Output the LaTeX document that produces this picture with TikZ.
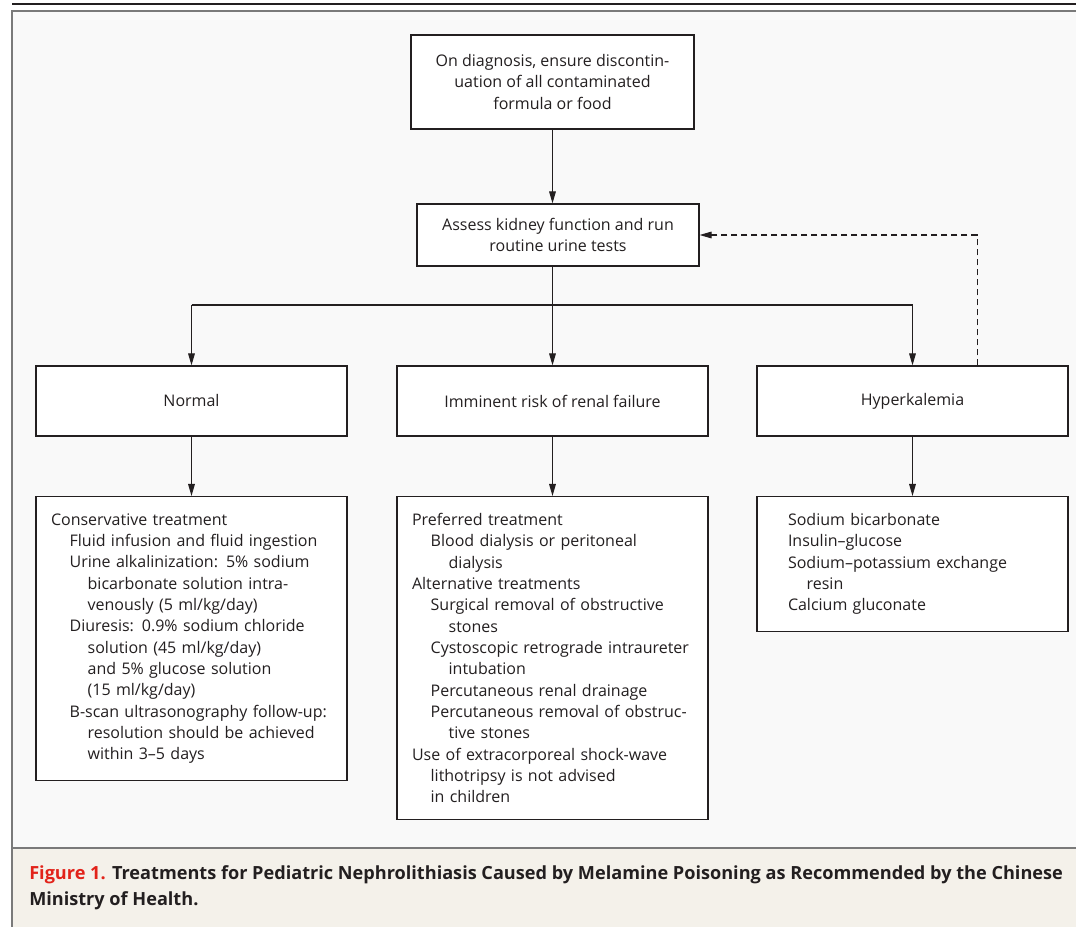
\documentclass[tikz,border=0pt]{standalone}
\usepackage{fontspec}
\setmainfont{Open Sans}
\usetikzlibrary{arrows.meta,positioning}

\definecolor{framegray}{RGB}{122,122,122}
\definecolor{panelbg}{RGB}{249,249,249}
\definecolor{capbg}{RGB}{244,241,234}
\definecolor{figred}{RGB}{226,35,26}
\definecolor{inkdark}{RGB}{35,31,32}

% hanging indents of the treatment lists
\newcommand{\lvone}{\hspace*{14pt}}
\newcommand{\lvtwo}{\hspace*{27.5pt}}

\tikzset{
  box/.style={draw=inkdark, line width=0.9pt, fill=white, text=inkdark, align=center,
    inner sep=0pt, font=\fontsize{12}{16}\selectfont},
  listbox/.style={draw=inkdark, line width=0.9pt, fill=white, text=inkdark, align=left,
    anchor=north, inner ysep=12.5pt, font=\fontsize{12}{16}\selectfont},
  arr/.style={draw=inkdark, line width=0.8pt, -{Triangle[length=9pt,width=5pt]}},
  wire/.style={draw=inkdark, line width=0.8pt},
}

\begin{document}
\begin{tikzpicture}[x=0.75pt,y=-0.75pt]
\useasboundingbox (0,0) rectangle (1076,927);

%Panel and caption band
\fill[panelbg] (12,11) rectangle (1076,848);
\fill[capbg] (12,848) rectangle (1076,927);
\draw[inkdark, line width=1.5pt] (12,4) -- (1076,4);
\draw[framegray, line width=1.5pt] (1076,11) -- (12,11) -- (12,927);
\draw[framegray, line width=1.5pt] (12,848) -- (1076,848);

%Top of the chart
\node[box, minimum width=212.25pt, minimum height=70.5pt] (diag) at (552.5,82)
  {On diagnosis, ensure discontin-\\uation of all contaminated\\formula or food};
\node[box, minimum width=211.5pt, minimum height=46.5pt] (assess) at (558,235)
  {Assess kidney function and run\\routine urine tests};

%Three outcomes
\node[box, minimum width=233.25pt, minimum height=52.5pt] (normal) at (191.5,401) {Normal};
\node[box, minimum width=233.25pt, minimum height=52.5pt] (risk) at (552.5,401) {Imminent risk of renal failure};
\node[box, minimum width=233.25pt, minimum height=52.5pt] (hyper) at (912.5,401) {Hyperkalemia};

%Treatment lists
\node[listbox, text width=210.75pt, inner xsep=11.25pt] (normtx) at (191.5,496) {%
Conservative treatment\\
\lvone Fluid infusion and fluid ingestion\\
\lvone Urine alkalinization: 5\% sodium\\
\lvtwo bicarbonate solution intra-\\
\lvtwo venously (5 ml/kg/day)\\
\lvone Diuresis: 0.9\% sodium chloride\\
\lvtwo solution (45 ml/kg/day)\\
\lvtwo and 5\% glucose solution\\
\lvtwo (15 ml/kg/day)\\
\lvone B-scan ultrasonography follow-up:\\
\lvtwo resolution should be achieved\\
\lvtwo within 3--5 days};
\node[listbox, text width=210.75pt, inner xsep=11.25pt] (risktx) at (552.5,496) {%
Preferred treatment\\
\lvone Blood dialysis or peritoneal\\
\lvtwo dialysis\\
Alternative treatments\\
\lvone Surgical removal of obstructive\\
\lvtwo stones\\
\lvone Cystoscopic retrograde intraureter\\
\lvtwo intubation\\
\lvone Percutaneous renal drainage\\
\lvone Percutaneous removal of obstruc-\\
\lvtwo tive stones\\
Use of extracorporeal shock-wave\\
\lvone lithotripsy is not advised\\
\lvone in children};
\node[listbox, text width=186.75pt, inner xsep=23.25pt] (hypertx) at (912.5,496) {%
Sodium bicarbonate\\
Insulin--glucose\\
Sodium--potassium exchange\\
\lvone resin\\
Calcium gluconate};

%Connectors
\coordinate (split) at (552.5,305);
\draw[arr] (diag.south) -- (diag.south |- assess.north);
\draw[wire] (diag.south |- assess.south) -- (split);
\draw[wire] (normal.north |- split) -- (hyper.north |- split);
\draw[arr] (normal.north |- split) -- (normal.north);
\draw[arr] (split) -- (risk.north);
\draw[arr] (hyper.north |- split) -- (hyper.north);
\draw[arr] (normal) -- (normtx);
\draw[arr] (risk) -- (risktx);
\draw[arr] (hyper) -- (hypertx);
\draw[arr, dash pattern=on 4.5pt off 3pt] ([xshift=48.4pt]hyper.north) |- (assess.east);

%Caption
\node[anchor=base west, align=left, inner sep=0pt, text=inkdark,
  font=\bfseries\fontsize{13.6}{19.5}\selectfont] (caption) at (29,905)
  {\textcolor{figred}{Figure 1.} Treatments for Pediatric Nephrolithiasis Caused by Melamine Poisoning as Recommended by the Chinese\\
   Ministry of Health.};

\end{tikzpicture}
\end{document}
